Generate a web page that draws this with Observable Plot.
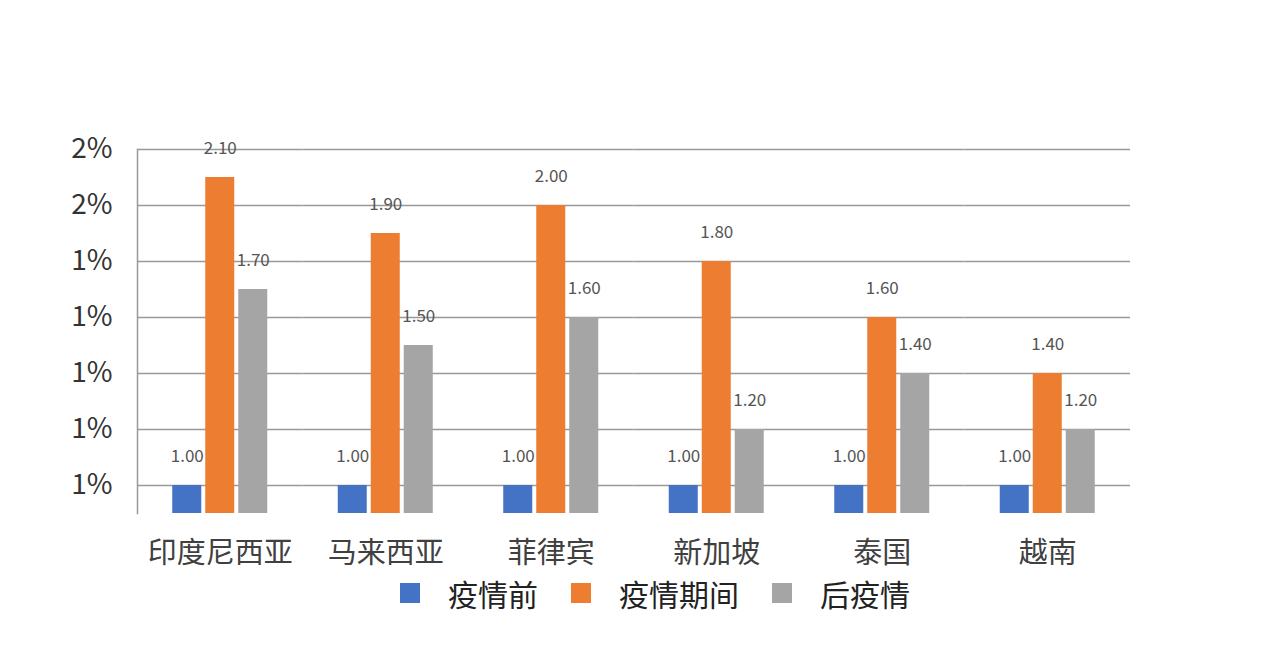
<!DOCTYPE html>
<html>
<head>
<meta charset="utf-8">
<script src="https://cdn.jsdelivr.net/npm/d3@7"></script>
<script src="https://cdn.jsdelivr.net/npm/@observablehq/plot@0.6"></script>
<style>
  html, body { margin: 0; padding: 0; background: #fff; }
  body { width: 1284px; height: 662px; overflow: hidden; font-family: "Noto Sans CJK SC", "Noto Sans", sans-serif; }
  #chart svg { display: block; }
  #legend { display: flex; align-items: center; height: 30px; margin-top: 3px; margin-left: 400px; font-size: 30px; line-height: 1; color: #222; }
  #legend .item { display: flex; align-items: center; margin-right: 33px; line-height: 1; }
  #legend .sw { width: 20px; height: 20px; margin-right: 28px; }
</style>
</head>
<body>
<div id="chart"></div>
<div id="legend"></div>
<script>
const categories = ["印度尼西亚", "马来西亚", "菲律宾", "新加坡", "泰国", "越南"];
const seriesNames = ["疫情前", "疫情期间", "后疫情"];
const before = [1.00, 1.00, 1.00, 1.00, 1.00, 1.00];
const during = [2.10, 1.90, 2.00, 1.80, 1.60, 1.40];
const after  = [1.70, 1.50, 1.60, 1.20, 1.40, 1.20];
const colors = ["#4472C4", "#ED7D31", "#A5A5A5"];
const yDomain = [0.9, 2.2];
const yTicks = [1.0, 1.2, 1.4, 1.6, 1.8, 2.0, 2.2];
const yTickLabels = ["1%", "1%", "1%", "1%", "1%", "2%", "2%"];

const seriesValues = [before, during, after];
const data = [];
categories.forEach((c, i) => {
  seriesNames.forEach((s, j) => {
    data.push({category: c, series: s, value: seriesValues[j][i]});
  });
});

const chart = Plot.plot({
  width: 1284,
  height: 575,
  marginLeft: 137,
  marginRight: 154,
  marginTop: 149,
  marginBottom: 62,
  style: {fontFamily: '"Noto Sans CJK SC", "Noto Sans", sans-serif', background: "#fff"},
  fx: {domain: categories, paddingInner: 0, paddingOuter: 0, round: false, label: null},
  x: {domain: seriesNames, paddingInner: 0.121, paddingOuter: 1.068, round: false, axis: null},
  y: {domain: yDomain, label: null},
  color: {domain: seriesNames, range: colors},
  marks: [
    Plot.ruleY(yTicks, {stroke: "#999", strokeWidth: 1.5}),
    Plot.barY(data, {fx: "category", x: "series", y1: () => yDomain[0], y2: "value", fill: "series"}),
    Plot.frame({anchor: "left", facetAnchor: "left", stroke: "#999", strokeWidth: 1.5}),
    Plot.text(data, {fx: "category", x: "series", y: "value", text: d => d.value.toFixed(2), dy: -29, fontSize: 17, fill: "#555"}),
    Plot.axisY({ticks: yTicks, tickFormat: (d, i) => yTickLabels[i], tickSize: 0, tickPadding: 25, fontSize: 28, fill: "#333", anchor: "left"}),
    Plot.axisFx({anchor: "bottom", tickSize: 0, tickPadding: 29, fontSize: 29, fill: "#404040", label: null})
  ]
});
document.getElementById("chart").appendChild(chart);

const legend = document.getElementById("legend");
seriesNames.forEach((s, i) => {
  const item = document.createElement("div");
  item.className = "item";
  const sw = document.createElement("span");
  sw.className = "sw";
  sw.style.background = colors[i];
  const label = document.createElement("span");
  label.textContent = s;
  item.appendChild(sw);
  item.appendChild(label);
  legend.appendChild(item);
});
</script>
</body>
</html>
